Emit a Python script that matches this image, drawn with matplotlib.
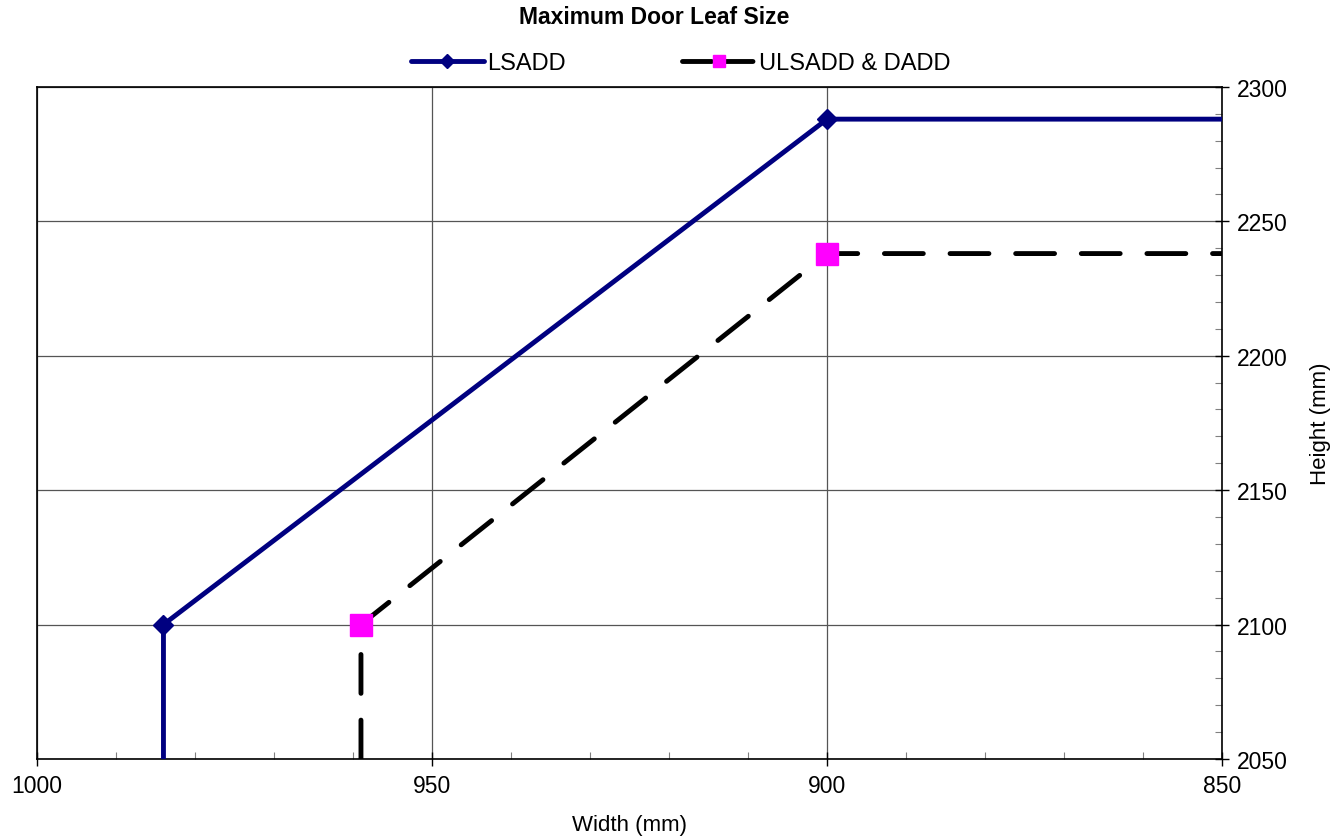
import matplotlib.pyplot as plt
from matplotlib.lines import Line2D
from matplotlib.ticker import MultipleLocator

plt.rcParams['font.family'] = ['Liberation Sans', 'DejaVu Sans']

# LSADD
lsadd_w = [984, 984, 900, 850]
lsadd_h = [2040, 2100, 2288, 2288]
lsadd_mark = [1, 2]
# ULSADD & DADD
ul_w = [959, 959, 900, 850]
ul_h = [2050, 2100, 2238, 2238]
ul_mark = [1, 2]

navy = '#000080'
magenta = '#FF00FF'
dash = (0, (8, 5.5))

fig = plt.figure(figsize=(13.33, 8.37), dpi=100)
ax = fig.add_axes([0.0278, 0.092, 0.889, 0.803])

ax.plot(lsadd_w, lsadd_h, color=navy, lw=3.5, marker='D', ms=10,
        markevery=lsadd_mark, zorder=3)
ax.plot(ul_w, ul_h, color='black', lw=3.5, ls=dash, dash_capstyle='round',
        marker='s', ms=16, mfc=magenta, mec=magenta, markevery=ul_mark, zorder=3)

ax.set_xlim(1000, 850)
ax.set_ylim(2050, 2300)
ax.xaxis.set_major_locator(MultipleLocator(50))
ax.xaxis.set_minor_locator(MultipleLocator(10))
ax.yaxis.set_major_locator(MultipleLocator(50))
ax.yaxis.set_minor_locator(MultipleLocator(10))
ax.yaxis.tick_right()
ax.yaxis.set_label_position('right')
ax.tick_params(which='major', direction='inout', length=10, width=1, labelsize=16.5, pad=6)
ax.tick_params(which='minor', direction='in', length=5, width=0.8, color='gray')
ax.grid(True, which='major', color='#555555', lw=0.9)
ax.set_axisbelow(True)
for s in ax.spines.values():
    s.set_linewidth(1.2)

ax.set_xlabel('Width (mm)', fontsize=16, labelpad=12)
ax.set_ylabel('Height (mm)', fontsize=16, labelpad=16)
fig.text(0.491, 0.979, 'Maximum Door Leaf Size', ha='center', va='center',
         fontsize=16.5, fontweight='bold')

handles = [
    Line2D([], [], color=navy, lw=3.5, marker='D', ms=7, solid_capstyle='round'),
    Line2D([], [], color='black', lw=3.5, ls=(0, (6, 2.5)), dash_capstyle='round',
           marker='s', ms=9, mfc=magenta, mec=magenta),
]
ax.legend(handles, ['LSADD', 'ULSADD & DADD'], loc='lower center',
          bbox_to_anchor=(0.543, 1.0), ncol=2, frameon=False, fontsize=17,
          columnspacing=4.9, handlelength=3.1, handletextpad=0.15,
          borderaxespad=0.15)

fig.savefig('out.png', dpi=100)
